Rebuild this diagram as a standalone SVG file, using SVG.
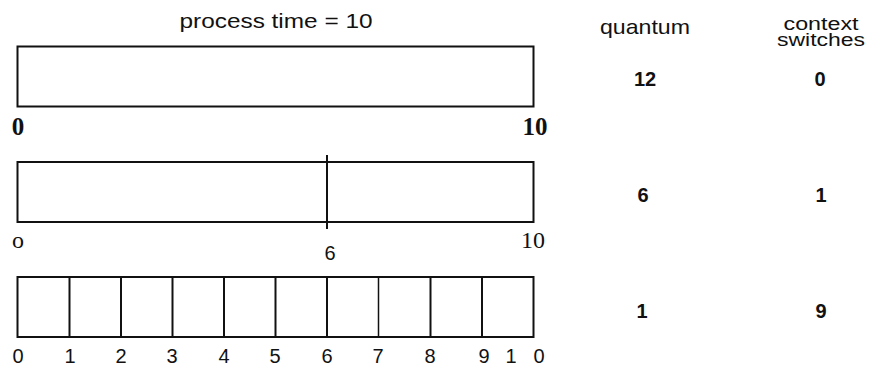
<svg xmlns="http://www.w3.org/2000/svg" width="869" height="366" viewBox="0 0 869 366">
<style>
.bar{fill:#fff;stroke:#111;stroke-width:2}
.div{stroke:#111;stroke-width:2}
.sans{font-family:"Liberation Sans",Arial,sans-serif;fill:#111}
.serif{font-family:"Liberation Serif","Times New Roman",serif;fill:#111}
.hdr{font-size:21px;text-anchor:middle}
.sub{font-size:18px;text-anchor:middle}
.val{font-size:20px;font-weight:bold;text-anchor:middle}
.tick{font-size:20px;text-anchor:middle}
</style>
<rect width="869" height="366" fill="#fff"/>
<g id="title">
<text class="sans hdr" x="276" y="28" textLength="193" lengthAdjust="spacingAndGlyphs">process time  =  10</text>
</g>
<g id="headers">
<text class="sans hdr" x="645" y="34" textLength="90" lengthAdjust="spacingAndGlyphs">quantum</text>
<text class="sans sub" x="821" y="30" textLength="75" lengthAdjust="spacingAndGlyphs">context</text>
<text class="sans sub" x="821" y="46" textLength="88" lengthAdjust="spacingAndGlyphs">switches</text>
</g>
<g id="bar-q12">
<rect class="bar" x="17.5" y="46.5" width="516" height="60"/>
<text class="serif" x="18" y="135" font-size="25" font-weight="bold" text-anchor="middle">0</text>
<text class="serif" x="535" y="135" font-size="25" font-weight="bold" text-anchor="middle">10</text>
<text class="sans val" x="645" y="86">12</text>
<text class="sans val" x="820" y="86">0</text>
</g>
<g id="bar-q6">
<rect class="bar" x="17.5" y="162" width="516" height="60"/>
<line class="div" x1="327" y1="155" x2="327" y2="229" stroke-dasharray="60 3 14 3"/>
<line class="div" x1="327" y1="162" x2="327" y2="222"/>
<text class="serif" x="18" y="248" font-size="24" text-anchor="middle">o</text>
<text class="sans" x="330" y="260" font-size="20" text-anchor="middle">6</text>
<text class="serif" x="533" y="248" font-size="24" text-anchor="middle">10</text>
<text class="sans val" x="643" y="202">6</text>
<text class="sans val" x="821" y="202">1</text>
</g>
<g id="bar-q1">
<rect class="bar" x="17.5" y="277" width="516" height="60"/>
<g class="div">
<line x1="69.5" y1="277" x2="69.5" y2="337"/>
<line x1="121" y1="277" x2="121" y2="337"/>
<line x1="172.5" y1="277" x2="172.5" y2="337"/>
<line x1="224" y1="277" x2="224" y2="337"/>
<line x1="275.5" y1="277" x2="275.5" y2="337"/>
<line x1="327" y1="277" x2="327" y2="337"/>
<line x1="378.5" y1="277" x2="378.5" y2="337" stroke-width="1.5"/>
<line x1="430.5" y1="277" x2="430.5" y2="337"/>
<line x1="482" y1="277" x2="482" y2="337"/>
</g>
<g class="sans tick">
<text x="18" y="363">0</text>
<text x="70" y="363">1</text>
<text x="121" y="363">2</text>
<text x="172" y="363">3</text>
<text x="224" y="363">4</text>
<text x="275" y="363">5</text>
<text x="327" y="363">6</text>
<text x="378" y="363">7</text>
<text x="430" y="363">8</text>
<text x="484" y="363">9</text>
<text x="511" y="363">1</text>
<text x="539" y="363">0</text>
</g>
<text class="sans val" x="642" y="318">1</text>
<text class="sans val" x="821" y="318">9</text>
</g>
<g id="connectors"/>
</svg>
